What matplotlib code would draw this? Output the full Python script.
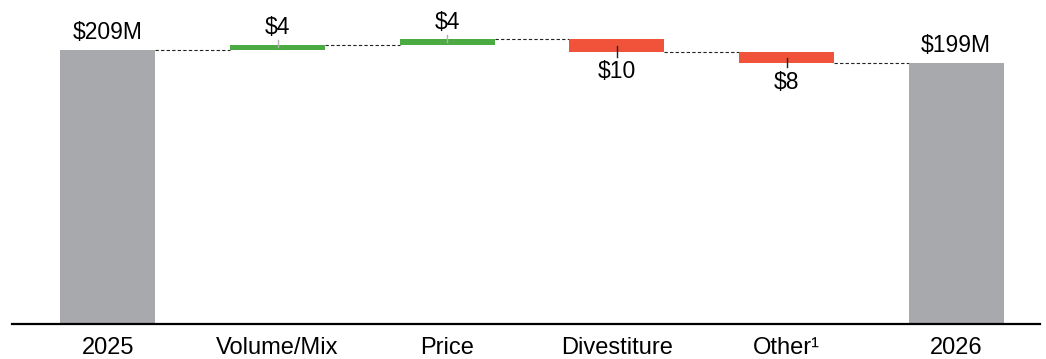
import matplotlib
matplotlib.use("Agg")
import matplotlib.pyplot as plt

categories = ["2025", "Volume/Mix", "Price", "Divestiture", "Other\u00b9", "2026"]
start_total = 209
deltas = [4, 4, -10, -8]
end_total = 199
labels = ["$209M", "$4", "$4", "$10", "$8", "$199M"]

GRAY = "#A7A9AC"
GREEN = "#4BAA42"
RED = "#F0533A"

plt.rcParams['font.family'] = ['Liberation Sans', 'DejaVu Sans']

fig = plt.figure(figsize=(10.46, 3.59), dpi=100)
ax = fig.add_axes([12/1046, 35/359, 1028/1046, 324/359])

width = 0.56
x = list(range(len(categories)))
VFS = 16.5
TFS = 17

# totals
ax.bar(x[0], start_total, width=width, color=GRAY, zorder=2)
ax.bar(x[-1], end_total, width=width, color=GRAY, zorder=2)

levels = [start_total]
level = start_total
for i, d in enumerate(deltas, start=1):
    bottom = level if d > 0 else level + d
    color = GREEN if d > 0 else RED
    ax.bar(x[i], abs(d), bottom=bottom, width=width, color=color, zorder=2)
    mid = bottom + abs(d) / 2
    if d > 0:
        top = level + d
        ax.plot([x[i], x[i]], [mid, top + 3.6], color="#B0B0B0", lw=1, zorder=3)
    else:
        ax.plot([x[i], x[i]], [mid, bottom - 3.3], color="#222222", lw=1, zorder=3)
    level += d
    levels.append(level)

# connectors
for i in range(len(categories) - 1):
    ax.plot([x[i] + width / 2, x[i + 1] - width / 2], [levels[i], levels[i]],
            color="#222222", lw=0.8, ls=(0, (3, 2)), zorder=1)

# labels
up = 7.6   # points
down = -18.4
ax.annotate(labels[0], (x[0], start_total), xytext=(0, up), textcoords="offset points",
            ha="center", va="baseline", fontsize=VFS)
ax.annotate(labels[-1], (x[-1], end_total), xytext=(0, up), textcoords="offset points",
            ha="center", va="baseline", fontsize=VFS)
lvl = start_total
for i, d in enumerate(deltas, start=1):
    if d > 0:
        ax.annotate(labels[i], (x[i], lvl + d), xytext=(0, up), textcoords="offset points",
                    ha="center", va="baseline", fontsize=VFS)
    else:
        ax.annotate(labels[i], (x[i], lvl + d), xytext=(0, down), textcoords="offset points",
                    ha="center", va="baseline", fontsize=VFS)
    lvl += d

ax.set_xlim(-0.565, 5.494)
ax.set_ylim(0, 247)
ax.set_xticks(x)
ax.set_xticklabels(categories, fontsize=TFS)
ax.tick_params(axis="x", length=0, pad=9)
ax.set_yticks([])
for s in ["top", "right", "left"]:
    ax.spines[s].set_visible(False)
ax.spines["bottom"].set_linewidth(1.6)
ax.spines["bottom"].set_color("black")

fig.savefig("out.png", dpi=100)
